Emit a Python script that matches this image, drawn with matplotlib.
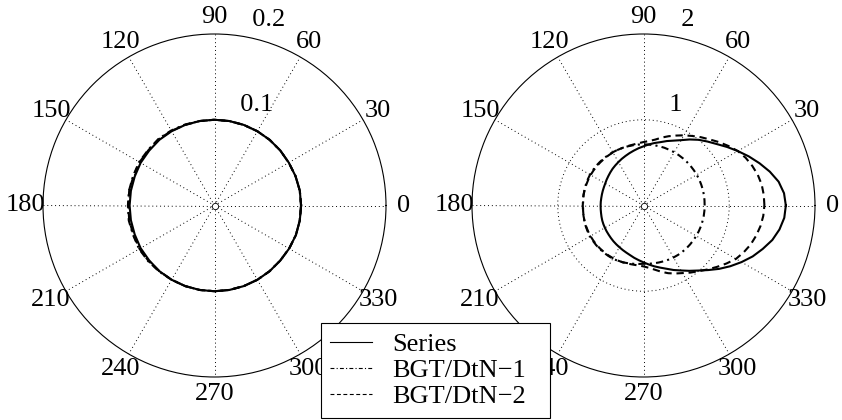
import matplotlib as mpl, numpy as np
import matplotlib.pyplot as plt

mpl.rcParams['font.family'] = ['Liberation Serif', 'DejaVu Serif']
mpl.rcParams['font.size'] = 19

# Left panel: one reading every 10 degrees
theta_l = list(range(0, 360, 10))
series_l = [0.101, 0.101, 0.1005, 0.100, 0.100, 0.100, 0.100, 0.100, 0.100, 0.100, 0.100, 0.100,
            0.100, 0.100, 0.0995, 0.0995, 0.099, 0.099, 0.099, 0.099, 0.099, 0.0995, 0.0995, 0.100,
            0.100, 0.100, 0.100, 0.100, 0.100, 0.100, 0.100, 0.100, 0.100, 0.1005, 0.101, 0.101]
dtn1_l = [0.101, 0.101, 0.1005, 0.100, 0.100, 0.100, 0.100, 0.100, 0.100, 0.100, 0.100, 0.1005,
          0.101, 0.1015, 0.101, 0.1015, 0.101, 0.1012, 0.101, 0.1015, 0.101, 0.1015, 0.101, 0.1005,
          0.100, 0.100, 0.100, 0.100, 0.100, 0.100, 0.100, 0.100, 0.100, 0.1005, 0.101, 0.101]
dtn2_l = [0.101, 0.101, 0.1005, 0.100, 0.100, 0.100, 0.100, 0.100, 0.100, 0.100, 0.100, 0.100,
          0.1005, 0.101, 0.1005, 0.101, 0.1005, 0.101, 0.1005, 0.101, 0.1005, 0.101, 0.1005, 0.100,
          0.100, 0.100, 0.100, 0.100, 0.100, 0.100, 0.100, 0.100, 0.100, 0.1005, 0.101, 0.101]

# Right panel: one reading every 5 degrees
theta_r = list(range(0, 360, 5))
series_r = [1.66, 1.645, 1.60, 1.525, 1.44, 1.355, 1.27, 1.19, 1.115, 1.055, 1.00, 0.94,
            0.88, 0.835, 0.80, 0.765, 0.74, 0.715, 0.69, 0.67, 0.65, 0.632, 0.615, 0.60,
            0.585, 0.572, 0.56, 0.547, 0.535, 0.525, 0.515, 0.509, 0.505, 0.502, 0.50, 0.50,
            0.50, 0.501, 0.503, 0.507, 0.512, 0.516, 0.52, 0.525, 0.53, 0.537, 0.545, 0.553,
            0.562, 0.573, 0.585, 0.60, 0.62, 0.64, 0.663, 0.69, 0.72, 0.75, 0.785, 0.83,
            0.875, 0.93, 0.99, 1.065, 1.15, 1.235, 1.32, 1.405, 1.48, 1.555, 1.61, 1.648]
dtn1_r = [0.713, 0.714, 0.715, 0.716, 0.716, 0.717, 0.717, 0.717, 0.717, 0.717, 0.717, 0.717,
          0.717, 0.716, 0.716, 0.715, 0.714, 0.713, 0.713, 0.713, 0.713, 0.714, 0.715, 0.716,
          0.717, 0.718, 0.718, 0.719, 0.72, 0.72, 0.72, 0.718, 0.715, 0.712, 0.71, 0.707,
          0.705, 0.707, 0.71, 0.713, 0.716, 0.718, 0.72, 0.72, 0.72, 0.719, 0.718, 0.717,
          0.716, 0.711, 0.705, 0.697, 0.69, 0.684, 0.68, 0.682, 0.685, 0.688, 0.692, 0.696,
          0.70, 0.703, 0.705, 0.707, 0.708, 0.709, 0.71, 0.711, 0.712, 0.712, 0.713, 0.713]
dtn2_r = [1.41, 1.408, 1.40, 1.38, 1.35, 1.315, 1.27, 1.21, 1.15, 1.09, 1.04, 0.99,
          0.945, 0.90, 0.86, 0.82, 0.78, 0.755, 0.74, 0.728, 0.72, 0.717, 0.715, 0.715,
          0.715, 0.713, 0.712, 0.712, 0.712, 0.712, 0.712, 0.711, 0.71, 0.71, 0.71, 0.709,
          0.708, 0.709, 0.71, 0.711, 0.712, 0.713, 0.714, 0.714, 0.714, 0.713, 0.712, 0.711,
          0.71, 0.708, 0.705, 0.702, 0.70, 0.702, 0.71, 0.73, 0.76, 0.80, 0.84, 0.875,
          0.91, 0.955, 1.00, 1.055, 1.115, 1.18, 1.245, 1.29, 1.33, 1.36, 1.385, 1.402]

labels = ['Series', 'BGT/DtN\u22121', 'BGT/DtN\u22122']
styles = ['-', (0, (3.5, 2, 1, 2)), (0, (3.5, 2.3))]

panels = [
    (theta_l, series_l, dtn1_l, dtn2_l, 0.2, [0.1, 0.2], ['0.1', '0.2']),
    (theta_r, series_r, dtn1_r, dtn2_r, 2.0, [1, 2], ['1', '2']),
]
positions = [[43 / 842, 43 / 420, 343 / 842, 343 / 420],
             [472 / 842, 43 / 420, 343 / 842, 343 / 420]]

fig = plt.figure(figsize=(8.42, 4.2), dpi=100)
spokes = list(range(0, 360, 30))

for pos, (tdeg, s, d1, d2, rmax, rticks, rlabels) in zip(positions, panels):
    ax = fig.add_axes(pos, projection='polar')
    th = np.deg2rad(np.append(tdeg, 360))
    for vals, ls in zip([s, d1, d2], styles):
        ax.plot(th, np.append(vals, vals[0]), color='k', linestyle=ls, linewidth=1.5)
    ax.set_rlim(0, rmax)
    ax.set_yticks(rticks[:-1])
    ax.set_yticklabels([])
    ax.set_xticks(np.deg2rad(spokes))
    ax.set_xticklabels([])
    ax.grid(True, color='k', linestyle=(0, (1, 3)), linewidth=0.7)
    ax.spines['polar'].set_linewidth(0.8)
    ax.spines['polar'].set_color('k')
    ax.plot([0], [0], 'o', ms=4.5, mfc='white', mec='k', mew=0.6)
    for a in spokes:
        ax.text(np.deg2rad(a), 1.1 * rmax, str(a), ha='center', va='center')
    rinc = rticks[0]
    for r, lab in zip(rticks, rlabels):
        ax.text(np.deg2rad(82), r + rinc / 20, '  ' + lab, ha='left', va='bottom')

handles = ax.get_lines()[:3]
leg = fig.legend(handles, labels, loc='center', mode='expand',
                 bbox_to_anchor=(320.7 / 842, 2 / 420, 229.3 / 842, 95 / 420),
                 fancybox=False, edgecolor='k', framealpha=1, borderpad=0.35,
                 labelspacing=0.1, handlelength=1.6, handletextpad=0.75, borderaxespad=0,
                 prop={'size': 19})
leg.get_frame().set_linewidth(0.8)
for l in leg.get_lines():
    l.set_linewidth(0.8)

fig.savefig('out.png', dpi=100)
